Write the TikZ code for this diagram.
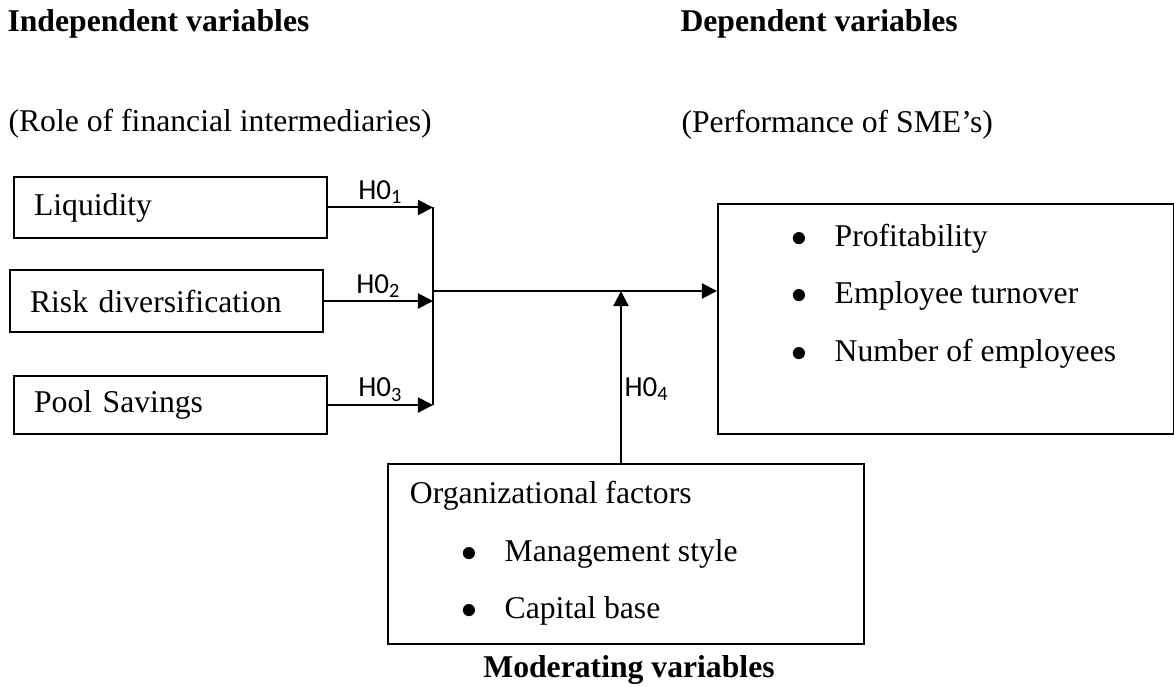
\documentclass[tikz,border=0pt]{standalone}
\usepackage{fontspec}
\setmainfont{Liberation Serif}
\newfontfamily\hypfont{Carlito}
\usetikzlibrary{arrows.meta}

\newcommand{\bul}[1]{\hspace*{28pt}\makebox[16.2pt][l]{$\bullet$}#1}

\begin{document}
\begin{tikzpicture}[x=0.3788pt, y=-0.3788pt,
      every node/.style={font=\fontsize{12}{14}\selectfont},
      var/.style={draw, line width=0.75pt, anchor=north west, align=left, text width=103.4pt, inner xsep=7.6pt, inner ysep=0pt},
      group/.style={draw, line width=0.75pt, anchor=north west, inner sep=0pt},
      heading/.style={anchor=base west, inner sep=0pt, font=\fontsize{12}{14}\selectfont\bfseries},
      caption/.style={anchor=base west, inner sep=0pt},
      link/.style={line width=0.75pt, -{Triangle[length=5.7pt, width=5.7pt]}},
      hyp/.style={font=\hypfont\fontsize{11}{13}\selectfont, inner sep=1pt},
      ]
      \useasboundingbox (0,0) rectangle (1174,687);

      \node[heading] (IVT) at (7,32) {Independent variables};
      \node[heading] (DVT) at (680,32) {Dependent variables};
      \node[caption] (IVC) at (8,132) {(Role of financial intermediaries)};
      \node[caption] (DVC) at (681,133) {(Performance of SME’s)};

      \node[var, minimum height=23.1pt] (LQ) at (13,176) {Liquidity};
      \node[var, minimum height=23.5pt] (RD) at (9,269) {Risk diversification};
      \node[var, minimum height=22pt] (PS) at (13,375) {Pool Savings};

      \node[group] (PF) at (717,203) {\parbox[c][87.1pt][t]{172.7pt}{\fontsize{12}{21.7}\selectfont\vspace*{7.7pt}%
          \bul{Profitability}\\ \bul{Employee turnover}\\ \bul{Number of employees}}};
      \node[group] (OF) at (387,463) {\parbox[c][68.2pt][t]{180.3pt}{\fontsize{12}{21.7}\selectfont\vspace*{6.6pt}%
          \hspace*{8.3pt}Organizational factors\\ \bul{Management style}\\ \bul{Capital base}}};
      \node[heading, anchor=base] (MVT) at (629,678) {Moderating variables};

      \coordinate (bar) at (433,291);
      \draw[link] (LQ.east) -- (LQ.east -| bar) node[hyp, midway, above] {H0\textsubscript{1}};
      \draw[link] (RD.east) -- (RD.east -| bar) node[hyp, midway, above] {H0\textsubscript{2}};
      \draw[link] (PS.east) -- (PS.east -| bar) node[hyp, midway, above] {H0\textsubscript{3}};
      \draw[line width=0.75pt] (LQ.east -| bar) -- (PS.east -| bar);
      \draw[link] (bar) -- (bar -| PF.west);
      \draw[link] ([xshift=-5*0.3788pt]OF.north) -- ([xshift=-5*0.3788pt]OF.north |- bar) node[hyp, pos=0.43, right] {H0\textsubscript{4}};
    \end{tikzpicture}
\end{document}
